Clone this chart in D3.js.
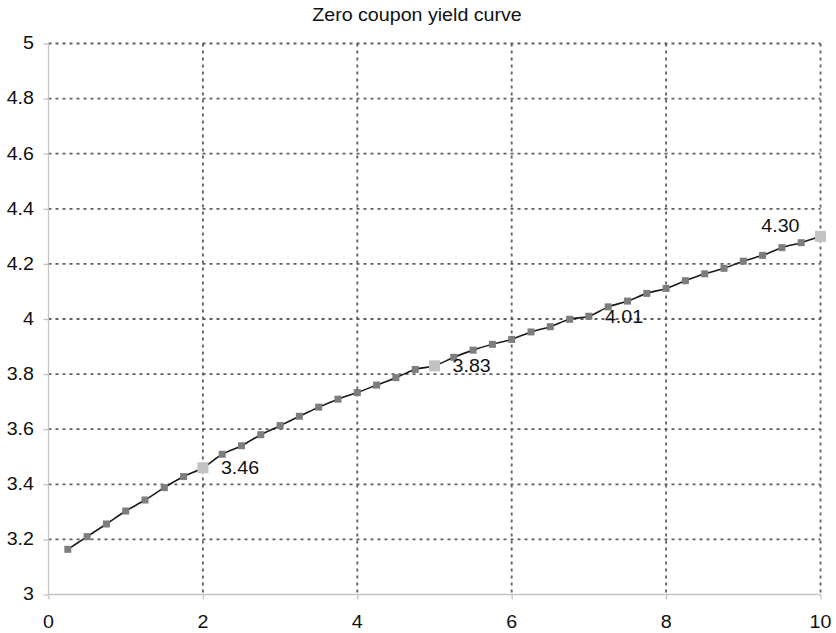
<!DOCTYPE html>
<html>
<head>
<meta charset="utf-8">
<script src="https://cdn.jsdelivr.net/npm/d3@7"></script>
<style>
  html, body { margin: 0; padding: 0; background: #fff; }
  svg { display: block; }
  text { font-family: "Liberation Sans", Arial, sans-serif; fill: #111; }
</style>
</head>
<body>
<svg id="chart" width="836" height="633"></svg>
<script>
// Maturities in years (quarterly steps)
const maturities = [
  0.25, 0.5, 0.75, 1.0, 1.25, 1.5, 1.75, 2.0,
  2.25, 2.5, 2.75, 3.0, 3.25, 3.5, 3.75, 4.0,
  4.25, 4.5, 4.75, 5.0, 5.25, 5.5, 5.75, 6.0,
  6.25, 6.5, 6.75, 7.0, 7.25, 7.5, 7.75, 8.0,
  8.25, 8.5, 8.75, 9.0, 9.25, 9.5, 9.75, 10.0
];
// Zero coupon yields (%)
const yields = [
  3.164, 3.210, 3.256, 3.303, 3.343, 3.388, 3.428, 3.46,
  3.509, 3.540, 3.580, 3.613, 3.647, 3.680, 3.709, 3.733,
  3.760, 3.787, 3.817, 3.83, 3.861, 3.887, 3.908, 3.926,
  3.953, 3.972, 3.999, 4.01, 4.044, 4.065, 4.093, 4.111,
  4.139, 4.164, 4.184, 4.210, 4.231, 4.259, 4.277, 4.30
];
// Labelled key maturities
const keyMaturities = [2, 5, 7, 10];
const highlighted = [2, 5, 10];
const xTicks = [0, 2, 4, 6, 8, 10];
const yTicks = [3, 3.2, 3.4, 3.6, 3.8, 4, 4.2, 4.4, 4.6, 4.8, 5];
const title = "Zero coupon yield curve";

const data = maturities.map((m, i) => ({ m, y: yields[i] }));

const svg = d3.select("#chart");
const plotL = 48.5, plotR = 820.5, plotT = 43.5, plotB = 594.5;
const SX = 1.11; // horizontal stretch of the lettering
const FS = 17.7;

const x = d3.scaleLinear().domain([0, 10]).range([plotL, plotR]);
const y = d3.scaleLinear().domain([3, 5]).range([plotB, plotT]);

// stretched text helper: places text at (px, py) with anchor
function stretchedText(g, px, py, str, anchor) {
  return g.append("text")
    .attr("transform", `translate(${px},${py}) scale(${SX},1)`)
    .attr("text-anchor", anchor)
    .attr("font-size", FS)
    .text(str);
}

// grid
const grid = svg.append("g").attr("stroke", "#5e5e5e").attr("stroke-width", 1.8)
  .attr("stroke-dasharray", "3,4").attr("fill", "none");
grid.selectAll("line.h").data(yTicks.filter(t => t > 3)).join("line")
  .attr("class", "h")
  .attr("x1", plotL).attr("x2", plotR)
  .attr("y1", d => y(d)).attr("y2", d => y(d));
grid.selectAll("line.v").data(xTicks.filter(t => t > 0)).join("line")
  .attr("class", "v")
  .attr("y1", plotT).attr("y2", plotB)
  .attr("x1", d => x(d)).attr("x2", d => x(d));

// axes
const axisColor = "#c4c4c4";
const yAxis = svg.append("g").attr("transform", `translate(${plotL},0)`)
  .call(d3.axisLeft(y).tickValues(yTicks).tickSize(5).tickFormat(""));
const xAxis = svg.append("g").attr("transform", `translate(0,${plotB})`)
  .call(d3.axisBottom(x).tickValues(xTicks).tickSize(5).tickFormat(""));
[yAxis, xAxis].forEach(a => {
  a.select(".domain").attr("stroke", axisColor).attr("stroke-width", 1.3);
  a.selectAll(".tick line").attr("stroke", axisColor).attr("stroke-width", 1.3);
});
// keep the baseline flush (no outer tick caps)
yAxis.select(".domain").attr("d", `M0,${plotT}V${plotB}`);
xAxis.select(".domain").attr("d", `M${plotL},0H${plotR}`);

// tick labels
const yl = svg.append("g");
yTicks.forEach(t => stretchedText(yl, 34, y(t) + 5.8, d3.format("~g")(t), "end"));
const xl = svg.append("g");
xTicks.forEach(t => stretchedText(xl, x(t), 628, String(t), "middle"));

// title
stretchedText(svg.append("g"), 417, 21, title, "middle");

// curve
const line = d3.line().x(d => x(d.m)).y(d => y(d.y)).curve(d3.curveMonotoneX);
svg.append("path").datum(data).attr("d", line)
  .attr("fill", "none").attr("stroke", "#1a1a1a").attr("stroke-width", 1.6);

// markers
const isHi = d => highlighted.includes(d.m);
svg.append("g").selectAll("rect").data(data).join("rect")
  .attr("x", d => x(d.m) - (isHi(d) ? 5.5 : 3.5))
  .attr("y", d => y(d.y) - (isHi(d) ? 5.5 : 3.5))
  .attr("width", d => isHi(d) ? 11 : 7)
  .attr("height", d => isHi(d) ? 11 : 7)
  .attr("fill", d => isHi(d) ? "#c2c2c2" : "#7d7d7d");

// value labels
const lab = svg.append("g");
data.filter(d => keyMaturities.includes(d.m)).forEach(d => {
  const str = d.y.toFixed(2);
  if (d.m === 10) {
    stretchedText(lab, x(d.m) - 21, y(d.y) - 4, str, "end");
  } else {
    stretchedText(lab, x(d.m) + (d.m === 7 ? 16 : 18), y(d.y) + 6.5, str, "start");
  }
});
</script>
</body>
</html>
